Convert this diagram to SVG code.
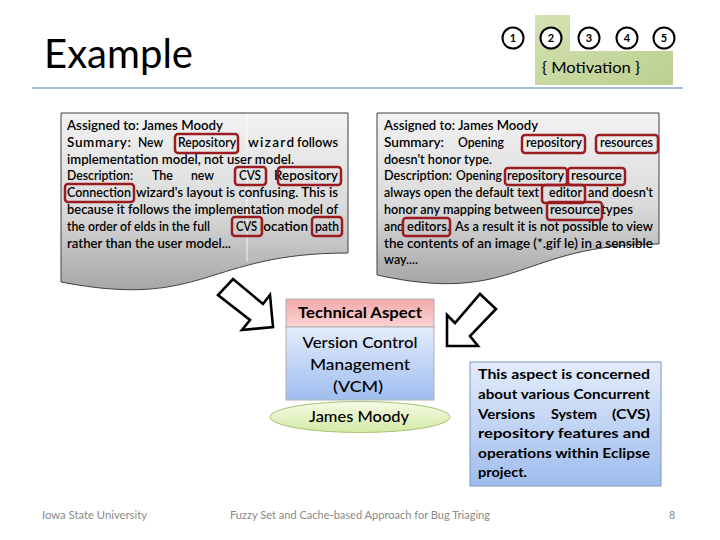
<svg xmlns="http://www.w3.org/2000/svg" width="720" height="540" viewBox="0 0 720 540">
<defs>
  <linearGradient id="gDoc" x1="0" y1="0" x2="0" y2="1">
    <stop offset="0" stop-color="#f2f2f2"/>
    <stop offset="0.55" stop-color="#dadada"/>
    <stop offset="1" stop-color="#a6a6a6"/>
  </linearGradient>
  <linearGradient id="gHead" x1="0" y1="0" x2="0" y2="1">
    <stop offset="0" stop-color="#f2a9a9"/>
    <stop offset="1" stop-color="#fbd3d3"/>
  </linearGradient>
  <linearGradient id="gBlue" x1="0" y1="0" x2="0" y2="1">
    <stop offset="0" stop-color="#e3ecfb"/>
    <stop offset="1" stop-color="#9fbdee"/>
  </linearGradient>
  <linearGradient id="gEll" x1="0" y1="0" x2="0" y2="1">
    <stop offset="0" stop-color="#f5fbe4"/>
    <stop offset="1" stop-color="#d3e9a6"/>
  </linearGradient>
  <linearGradient id="gGreen" x1="0" y1="0" x2="1" y2="1">
    <stop offset="0" stop-color="#d4e2b2"/>
    <stop offset="1" stop-color="#bccf90"/>
  </linearGradient>
</defs>
<style>
  .t { font-family: Lato, "Open Sans", "Liberation Sans", sans-serif; fill:#000; }
  .doc { font-size:13.5px; font-weight:600; }
  .hl { fill:none; stroke:#9b1c20; stroke-width:2.5; }
  .num { fill:#fff; stroke:#000; stroke-width:2; }
  .numt { font-family: Lato, "Liberation Sans", sans-serif; font-size:11px; font-weight:bold; text-anchor:middle; }
  .foot { font-family: Lato, "Liberation Sans", sans-serif; font-size:10.5px; fill:#8a8a8a; }
  .arrow { fill:#fff; stroke:#000; stroke-width:2.6; stroke-linejoin:miter; }
</style>

<rect width="720" height="540" fill="#fff"/>

<g id="title">
  <text class="t" x="44" y="68" font-size="41" textLength="149" lengthAdjust="spacingAndGlyphs">Example</text>
  <line x1="32" y1="88" x2="683" y2="88" stroke="#a7bfdd" stroke-width="2"/>
</g>

<g id="nav">
  <path d="M535,15 H570 V51 H673 V85 H535 Z" fill="url(#gGreen)"/>
  <circle class="num" cx="513" cy="38" r="10.5"/>
  <circle class="num" cx="551" cy="38" r="10.5"/>
  <circle class="num" cx="589" cy="38" r="10.5"/>
  <circle class="num" cx="627" cy="38" r="10.5"/>
  <circle class="num" cx="664" cy="38" r="10.5"/>
  <text class="numt" x="513" y="42">1</text>
  <text class="numt" x="551" y="42">2</text>
  <text class="numt" x="589" y="42">3</text>
  <text class="numt" x="627" y="42">4</text>
  <text class="numt" x="664" y="42">5</text>
  <text class="t" x="542" y="73" font-size="15" textLength="98" lengthAdjust="spacingAndGlyphs" fill="#1a1a1a">{ Motivation }</text>
</g>

<g id="bug-report-1">
  <path d="M61,113 H348 V253 C205,253 205,310 61,282 Z" fill="url(#gDoc)" stroke="#404040" stroke-width="1"/>
  <line x1="247" y1="114" x2="247" y2="262" stroke="#fff" stroke-width="1" opacity="0.8"/>
  <g class="t doc">
    <text x="67" y="130" textLength="156" lengthAdjust="spacingAndGlyphs">Assigned to:  James Moody</text>
    <text x="67" y="147" textLength="64" lengthAdjust="spacing">Summary:</text>
    <text x="138" y="147" textLength="25" lengthAdjust="spacingAndGlyphs">New</text>
    <text x="178" y="147" textLength="58" lengthAdjust="spacingAndGlyphs">Repository</text>
    <text x="248" y="147" textLength="46" lengthAdjust="spacing">wizard</text>
    <text x="297" y="147" textLength="41" lengthAdjust="spacingAndGlyphs">follows</text>
    <text x="67" y="163.5" textLength="227" lengthAdjust="spacingAndGlyphs">implementation model, not user model.</text>
    <text x="67" y="180" textLength="66" lengthAdjust="spacingAndGlyphs">Description:</text>
    <text x="152" y="180" textLength="21" lengthAdjust="spacingAndGlyphs">The</text>
    <text x="191" y="180" textLength="23" lengthAdjust="spacingAndGlyphs">new</text>
    <text x="239" y="180" textLength="22" lengthAdjust="spacingAndGlyphs">CVS</text>
    <text x="274" y="180" textLength="64" lengthAdjust="spacingAndGlyphs">Repository</text>
    <text x="67" y="197" textLength="64" lengthAdjust="spacingAndGlyphs">Connection</text>
    <text x="136" y="197" textLength="202" lengthAdjust="spacingAndGlyphs">wizard's layout is confusing. This is</text>
    <text x="67" y="214" textLength="271" lengthAdjust="spacingAndGlyphs">because it follows the implementation model of</text>
    <text x="67" y="231" textLength="143" lengthAdjust="spacingAndGlyphs">the order of elds in the full</text>
    <text x="236" y="231" textLength="21" lengthAdjust="spacingAndGlyphs">CVS</text>
    <text x="260" y="231" textLength="48" lengthAdjust="spacingAndGlyphs">location</text>
    <text x="315" y="231" textLength="24" lengthAdjust="spacingAndGlyphs">path</text>
    <text x="67" y="247.5" textLength="164" lengthAdjust="spacingAndGlyphs">rather than the user model...</text>
  </g>
  <rect class="hl" x="175" y="134" width="63" height="19" rx="3"/>
  <rect class="hl" x="235" y="167" width="31" height="18" rx="3"/>
  <rect class="hl" x="278" y="167" width="63" height="18" rx="3"/>
  <rect class="hl" x="65" y="184" width="69" height="18" rx="3"/>
  <rect class="hl" x="232" y="217" width="30" height="19" rx="3"/>
  <rect class="hl" x="312" y="217" width="30" height="19" rx="3"/>
</g>

<g id="bug-report-2">
  <path d="M377,113 H659 V244 C518,244 518,306 377,275 Z" fill="url(#gDoc)" stroke="#404040" stroke-width="1"/>
  <g class="t doc">
    <text x="384" y="130" textLength="154" lengthAdjust="spacingAndGlyphs">Assigned to:  James Moody</text>
    <text x="384" y="147" textLength="60" lengthAdjust="spacingAndGlyphs">Summary:</text>
    <text x="458" y="147" textLength="46" lengthAdjust="spacingAndGlyphs">Opening</text>
    <text x="526" y="147" textLength="56" lengthAdjust="spacingAndGlyphs">repository</text>
    <text x="600" y="147" textLength="53" lengthAdjust="spacingAndGlyphs">resources</text>
    <text x="384" y="163.5" textLength="108" lengthAdjust="spacingAndGlyphs">doesn't honor type.</text>
    <text x="384" y="180" textLength="68" lengthAdjust="spacingAndGlyphs">Description:</text>
    <text x="456" y="180" textLength="46" lengthAdjust="spacingAndGlyphs">Opening</text>
    <text x="507" y="180" textLength="57" lengthAdjust="spacingAndGlyphs">repository</text>
    <text x="571" y="180" textLength="51" lengthAdjust="spacingAndGlyphs">resource</text>
    <text x="384" y="197" font-size="12.5" textLength="155" lengthAdjust="spacingAndGlyphs">always open the default text</text>
    <text x="549" y="197" textLength="33" lengthAdjust="spacingAndGlyphs">editor</text>
    <text x="588" y="197" textLength="65" lengthAdjust="spacingAndGlyphs">and doesn't</text>
    <text x="384" y="214" textLength="159" lengthAdjust="spacingAndGlyphs">honor any mapping between</text>
    <text x="550" y="214" textLength="50" lengthAdjust="spacingAndGlyphs">resource</text>
    <text x="601" y="214" textLength="32" lengthAdjust="spacingAndGlyphs">types</text>
    <text x="384" y="231" textLength="20" lengthAdjust="spacingAndGlyphs">and</text>
    <text x="407" y="231" textLength="43" lengthAdjust="spacingAndGlyphs">editors.</text>
    <text x="455" y="231" textLength="198" lengthAdjust="spacingAndGlyphs">As a result it is not possible to view</text>
    <text x="384" y="247.5" textLength="269" lengthAdjust="spacingAndGlyphs">the contents of an image (*.gif le) in a sensible</text>
    <text x="384" y="264" textLength="34" lengthAdjust="spacingAndGlyphs">way....</text>
  </g>
  <rect class="hl" x="522" y="135" width="63" height="18" rx="3"/>
  <rect class="hl" x="596" y="135" width="62" height="18" rx="3"/>
  <rect class="hl" x="505" y="168" width="62" height="17" rx="3"/>
  <rect class="hl" x="568" y="168" width="57" height="17" rx="3"/>
  <rect class="hl" x="542" y="185" width="43" height="18" rx="3"/>
  <rect class="hl" x="547" y="202" width="55" height="18" rx="3"/>
  <rect class="hl" x="403" y="218" width="47" height="18" rx="3"/>
</g>

<g id="connectors">
  <polygon class="arrow" points="233,279 263,304 270,295 273,327 242,330 250,320 218,295"/>
  <polygon class="arrow" points="480,294 496,309 470,336 478,346 447,346 447,315 455,323"/>
</g>

<g id="technical-aspect">
  <rect x="286" y="299" width="148" height="28" fill="url(#gHead)" stroke="#b0b0b0" stroke-width="1"/>
  <rect x="286" y="327" width="148" height="73" fill="url(#gBlue)" stroke="#b0b0b0" stroke-width="1"/>
  <text class="t" x="360" y="318" font-size="14.5" font-weight="bold" text-anchor="middle" textLength="124" lengthAdjust="spacingAndGlyphs" fill="#1a1a1a">Technical Aspect</text>
  <text class="t" x="360" y="348" font-size="15" font-weight="500" text-anchor="middle" textLength="115" lengthAdjust="spacingAndGlyphs" fill="#1a1a1a">Version Control</text>
  <text class="t" x="360" y="370" font-size="15" font-weight="500" text-anchor="middle" textLength="100" lengthAdjust="spacingAndGlyphs" fill="#1a1a1a">Management</text>
  <text class="t" x="358" y="392" font-size="15" font-weight="500" text-anchor="middle" textLength="50" lengthAdjust="spacingAndGlyphs" fill="#1a1a1a">(VCM)</text>
</g>

<g id="assignee">
  <ellipse cx="360" cy="417" rx="90" ry="15.5" fill="url(#gEll)" stroke="#a9c47a" stroke-width="1"/>
  <text class="t" x="359" y="422" font-size="15" font-weight="500" text-anchor="middle" textLength="100" lengthAdjust="spacingAndGlyphs" fill="#1a1a1a">James Moody</text>
</g>

<g id="description">
  <rect x="470" y="362" width="191" height="124" fill="url(#gBlue)" stroke="#7f98bb" stroke-width="1"/>
  <g class="t" font-size="13.5" font-weight="bold">
    <text x="478" y="379" textLength="172" lengthAdjust="spacingAndGlyphs">This aspect is concerned</text>
    <text x="478" y="399" textLength="172" lengthAdjust="spacingAndGlyphs">about various Concurrent</text>
    <text x="478" y="418.5" textLength="57" lengthAdjust="spacingAndGlyphs">Versions</text>
    <text x="551" y="418.5" textLength="46" lengthAdjust="spacingAndGlyphs">System</text>
    <text x="612" y="418.5" textLength="38" lengthAdjust="spacingAndGlyphs">(CVS)</text>
    <text x="478" y="438" textLength="172" lengthAdjust="spacingAndGlyphs">repository features and</text>
    <text x="478" y="457.5" textLength="172" lengthAdjust="spacingAndGlyphs">operations within Eclipse</text>
    <text x="478" y="477" textLength="49" lengthAdjust="spacingAndGlyphs">project.</text>
  </g>
</g>

<g id="footer">
  <text class="foot" x="42" y="519" textLength="105" lengthAdjust="spacingAndGlyphs">Iowa State University</text>
  <text class="foot" x="230" y="519" textLength="260" lengthAdjust="spacingAndGlyphs">Fuzzy Set and Cache-based Approach for Bug Triaging</text>
  <text class="foot" x="669" y="519">8</text>
</g>
</svg>
